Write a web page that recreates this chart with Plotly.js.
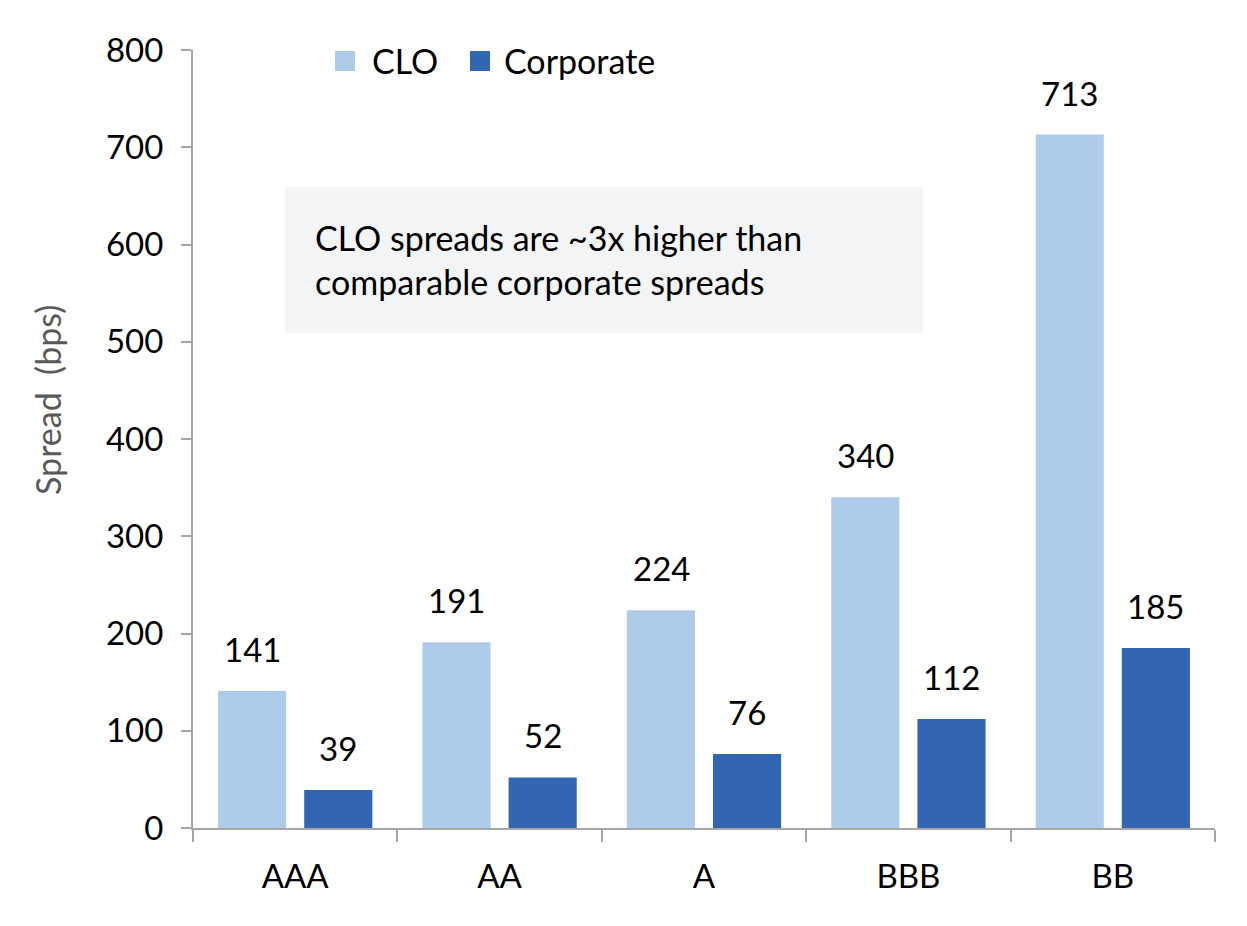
<!DOCTYPE html>
<html>
<head>
<meta charset="utf-8">
<script src="https://cdn.plot.ly/plotly-3.0.1.min.js"></script>
<style>html,body{margin:0;padding:0;background:#fff;}#chart{width:1247px;height:926px;}</style>
</head>
<body>
<div id="chart"></div>
<script>
const categories = ["AAA", "AA", "A", "BBB", "BB"];
const cloSpreads = [141, 191, 224, 340, 713];
const corporateSpreads = [39, 52, 76, 112, 185];
const seriesNames = ["CLO", "Corporate"];
const yTickValues = [0, 100, 200, 300, 400, 500, 600, 700, 800];
const noteText = "CLO spreads are ~3x higher than<br>comparable corporate spreads";
const yTitle = "Spread  (bps)";

const FONT = "Lato, 'Open Sans', sans-serif";
const colors = ["#afcbea", "#3366b2"];
const W = 1022, H = 778, L = 193, T = 50;
const px = v => (v - L) / W;
const py = v => (T + H - v) / H;

const traces = [
  {type: "bar", name: seriesNames[0], x: categories, y: cloSpreads, marker: {color: colors[0]}, hoverinfo: "none", showlegend: false},
  {type: "bar", name: seriesNames[1], x: categories, y: corporateSpreads, marker: {color: colors[1]}, hoverinfo: "none", showlegend: false}
];

const annotations = [];
const offsets = [-43, 43];
[cloSpreads, corporateSpreads].forEach((vals, s) => {
  vals.forEach((v, i) => {
    annotations.push({
      x: categories[i], y: v, xref: "x", yref: "y",
      text: String(v), showarrow: false,
      xshift: offsets[s], yshift: 42,
      font: {family: FONT, size: 33, color: "#000"}
    });
  });
});
annotations.push({
  xref: "paper", yref: "paper", x: px(313), y: py(259), xanchor: "left", yanchor: "middle",
  text: noteText, align: "left", showarrow: false,
  font: {family: FONT, size: 34, color: "#000"}
});
annotations.push({
  xref: "paper", yref: "paper", x: px(47), y: py(400), xanchor: "center", yanchor: "middle",
  text: yTitle, textangle: -90, showarrow: false,
  font: {family: FONT, size: 34, color: "#595959"}
});
// legend
const legendMarkX = [335, 470];
const legendTextX = [370, 502];
const shapes = [{
  type: "rect", xref: "paper", yref: "paper", x0: px(285), x1: px(923), y0: py(333), y1: py(187),
  fillcolor: "#f3f4f5", line: {width: 0}, layer: "below"
}];
seriesNames.forEach((n, s) => {
  shapes.push({type: "rect", xref: "paper", yref: "paper",
    x0: px(legendMarkX[s]), x1: px(legendMarkX[s] + 20), y0: py(71), y1: py(51),
    fillcolor: colors[s], line: {width: 0}});
  annotations.push({xref: "paper", yref: "paper", x: px(legendTextX[s]), y: py(61),
    xanchor: "left", yanchor: "middle", text: n, showarrow: false,
    font: {family: FONT, size: 34, color: "#000"}});
});

const layout = {
  width: 1247, height: 926,
  margin: {l: L, r: 32, t: T, b: 98},
  paper_bgcolor: "#fff", plot_bgcolor: "#fff",
  font: {family: FONT, size: 33, color: "#000"},
  barmode: "group", bargap: 0.157, bargroupgap: 0.209,
  showlegend: false,
  xaxis: {
    type: "category", showline: true, linecolor: "#a6a6a6", linewidth: 2,
    ticks: "outside", tickson: "boundaries", ticklen: 12, tickcolor: "#a6a6a6", tickwidth: 2,
    showgrid: false, zeroline: false, ticklabelstandoff: 18,
    tickfont: {family: FONT, size: 33, color: "#000"}
  },
  yaxis: {
    range: [0, 800], tickvals: yTickValues, showline: true, linecolor: "#a6a6a6", linewidth: 2,
    ticks: "outside", ticklen: 10, tickcolor: "#a6a6a6", tickwidth: 2,
    showgrid: false, zeroline: false, ticklabelstandoff: 11,
    tickfont: {family: FONT, size: 33, color: "#000"}
  },
  shapes: shapes,
  annotations: annotations
};

Plotly.newPlot("chart", traces, layout, {staticPlot: true, displayModeBar: false});
</script>
</body>
</html>
